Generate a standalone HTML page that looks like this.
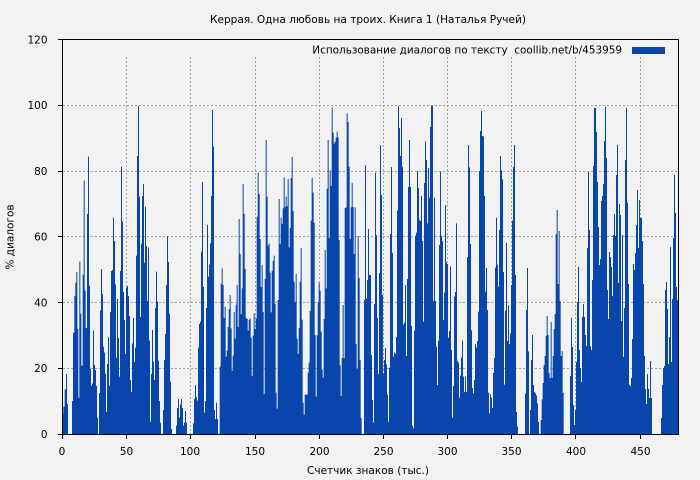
<!DOCTYPE html>
<html><head><meta charset="utf-8"><style>
html,body{margin:0;padding:0;background:#f2f2f2;}
svg{display:block;}
text{font-family:"DejaVu Sans","Liberation Sans",sans-serif;font-size:10.5px;fill:#000;}
</style></head><body>
<svg width="700" height="480" viewBox="0 0 700 480" xmlns="http://www.w3.org/2000/svg">
<rect x="0" y="0" width="700" height="480" fill="#f2f2f2"/>
<!-- grid -->
<g stroke="#a0a0a0" stroke-width="1" stroke-dasharray="2,2" fill="none">
<line x1="63" y1="105.5" x2="678" y2="105.5"/>
<line x1="63" y1="171.5" x2="678" y2="171.5"/>
<line x1="63" y1="236.5" x2="678" y2="236.5"/>
<line x1="63" y1="302.5" x2="678" y2="302.5"/>
<line x1="63" y1="368.5" x2="678" y2="368.5"/>
<line x1="126.5" y1="57" x2="126.5" y2="434"/>
<line x1="190.5" y1="57" x2="190.5" y2="434"/>
<line x1="255.5" y1="57" x2="255.5" y2="434"/>
<line x1="319.5" y1="57" x2="319.5" y2="434"/>
<line x1="383.5" y1="57" x2="383.5" y2="434"/>
<line x1="447.5" y1="57" x2="447.5" y2="434"/>
<line x1="511.5" y1="57" x2="511.5" y2="434"/>
<line x1="575.5" y1="57" x2="575.5" y2="434"/>
<line x1="640.5" y1="57" x2="640.5" y2="434"/>
</g>
<!-- bars -->
<g fill="#0846ac">
<path transform="translate(62 100) scale(0.333333)" d="M0,1002 V940 H4 V920 H8 V868 H12 V822 H15 V912 H18 V1002 H30 V903 H33 V698 H37 V588 H40 V548 H43 V516 H46 V687 H49 V893 H52 V485 H55 V641 H58 V797 H62 V524 H65 V242 H68 V572 H71 V684 H75 V342 H78 V170 H81 V557 H84 V806 H87 V857 H90 V850 H93 V692 H96 V795 H99 V810 H102 V857 H105 V953 H108 V1002 H111 V879 H114 V632 H117 V507 H120 V582 H123 V740 H126 V758 H129 V821 H132 V936 H135 V792 H138 V711 H141 V857 H144 V636 H147 V513 H150 V510 H153 V353 H156 V423 H159 V553 H162 V773 H165 V597 H168 V714 H171 V830 H174 V513 H177 V200 H180 V365 H183 V576 H186 V660 H189 V762 H192 V563 H195 V558 H198 V588 H201 V648 H204 V840 H207 V876 H210 V730 H213 V654 H216 V786 H219 V743 H222 V467 H225 V168 H228 V18 H231 V290 H234 V651 H237 V431 H240 V288 H243 V252 H246 V488 H249 V320 H252 V438 H255 V603 H258 V442 H261 V722 H264 V965 H267 V822 H270 V690 H273 V785 H276 V840 H279 V624 H282 V515 H285 V605 H288 V782 H291 V903 H294 V968 H297 V1002 H303 V930 H306 V780 H309 V702 H312 V555 H315 V408 H318 V486 H321 V641 H324 V845 H327 V987 H330 V1002 H342 V977 H345 V924 H348 V897 H351 V952 H354 V914 H357 V897 H360 V924 H363 V977 H366 V968 H369 V933 H372 V968 H375 V1002 H393 V970 H396 V897 H399 V855 H402 V891 H405 V902 H408 V743 H411 V672 H414 V665 H417 V455 H420 V246 H423 V561 H426 V938 H429 V903 H432 V624 H435 V375 H438 V530 H441 V494 H444 V430 H447 V288 H450 V30 H453 V140 H456 V930 H459 V957 H462 V1002 Z"/>
<path transform="translate(216 100) scale(0.333333)" d="M0,1002 V908 H3 V957 H6 V1002 H11 V800 H14 V551 H17 V505 H20 V555 H23 V654 H26 V620 H29 V770 H32 V752 H35 V681 H38 V627 H41 V585 H44 V685 H47 V812 H50 V767 H53 V636 H56 V716 H59 V614 H62 V555 H65 V681 H68 V357 H71 V462 H74 V642 H77 V565 H80 V252 H83 V342 H86 V507 H89 V654 H92 V657 H95 V692 H98 V660 H101 V655 H104 V713 H107 V828 H110 V707 H113 V640 H116 V687 H119 V656 H122 V350 H125 V218 H128 V282 H131 V417 H134 V561 H137 V495 H140 V636 H143 V882 H146 V537 H149 V120 H152 V290 H155 V437 H158 V430 H161 V518 H164 V637 H167 V513 H170 V483 H173 V467 H176 V612 H179 V878 H182 V926 H185 V600 H188 V297 H191 V432 H194 V353 H197 V372 H200 V325 H203 V232 H206 V321 H209 V290 H212 V318 H215 V237 H218 V442 H221 V384 H224 V234 H227 V171 H230 V333 H233 V545 H236 V606 H239 V522 H242 V716 H245 V762 H248 V684 H251 V545 H254 V444 H257 V659 H260 V908 H263 V944 H266 V884 H275 V818 H278 V788 H281 V633 H284 V362 H287 V234 H290 V278 H293 V368 H296 V705 H299 V890 H302 V706 H305 V607 H308 V548 H311 V572 H314 V695 H317 V808 H320 V833 H323 V657 H326 V450 H329 V565 H332 V266 H335 V120 H338 V414 H341 V211 H344 V258 H347 V22 H350 V98 H353 V131 H356 V125 H359 V113 H362 V95 H365 V112 H368 V420 H371 V796 H374 V888 H377 V774 H380 V615 H383 V774 H386 V324 H389 V322 H392 V40 H395 V66 H398 V200 H401 V417 H404 V322 H407 V249 H410 V321 H413 V462 H416 V322 H419 V732 H422 V806 H425 V408 H428 V534 H431 V780 H434 V954 H437 V1002 H444 V600 H447 V196 H450 V596 H453 V540 H456 V387 H459 V525 H462 V1002 Z"/>
<path transform="translate(370 100) scale(0.333333)" d="M0,1002 V525 H3 V765 H6 V900 H9 V968 H12 V612 H15 V218 H18 V405 H21 V654 H24 V822 H27 V519 H30 V135 H33 V285 H36 V585 H39 V820 H42 V780 H45 V744 H48 V793 H51 V884 H54 V965 H57 V803 H60 V402 H63 V201 H66 V459 H69 V770 H72 V758 H75 V762 H78 V711 H81 V332 H84 V18 H87 V84 H90 V168 H93 V54 H96 V200 H99 V674 H102 V668 H105 V555 H108 V768 H111 V537 H114 V261 H117 V120 H120 V261 H123 V678 H126 V977 H129 V985 H132 V692 H135 V407 H138 V398 H141 V213 H144 V264 H147 V360 H150 V363 H153 V288 H156 V423 H159 V665 H162 V249 H165 V124 H168 V180 H171 V370 H174 V204 H177 V293 H180 V81 H183 V18 H189 V603 H192 V293 H195 V603 H198 V740 H201 V855 H204 V722 H207 V435 H210 V215 H213 V408 H216 V423 H219 V660 H222 V578 H225 V315 H228 V487 H231 V492 H234 V713 H237 V693 H240 V500 H243 V750 H246 V953 H249 V858 H252 V590 H255 V576 H258 V370 H261 V783 H264 V788 H267 V893 H270 V827 H273 V773 H276 V722 H279 V830 H282 V876 H285 V830 H288 V876 H291 V471 H294 V135 H297 V202 H300 V432 H303 V691 H306 V864 H309 V880 H312 V840 H315 V732 H318 V743 H321 V723 H324 V635 H327 V213 H330 V93 H333 V33 H336 V108 H339 V110 H342 V288 H345 V575 H348 V504 H351 V630 H354 V878 H357 V940 H360 V883 H363 V893 H366 V924 H369 V819 H372 V774 H375 V503 H378 V353 H381 V494 H384 V560 H387 V390 H390 V168 H393 V211 H396 V238 H399 V516 H402 V854 H405 V632 H408 V429 H411 V723 H414 V616 H417 V732 H420 V700 H423 V555 H426 V362 H429 V201 H432 V135 H435 V525 H438 V936 H441 V980 H444 V1002 H462 Z"/>
<path transform="translate(524 100) scale(0.333333)" d="M0,1002 H3 V880 H6 V630 H9 V504 H12 V754 H15 V1002 H18 V930 H21 V780 H24 V705 H27 V855 H30 V876 H33 V880 H36 V886 H39 V910 H42 V966 H45 V1002 H50 V960 H53 V898 H56 V849 H59 V795 H62 V768 H65 V708 H68 V648 H71 V705 H74 V819 H77 V834 H80 V666 H83 V834 H86 V768 H89 V687 H92 V642 H95 V402 H98 V330 H101 V552 H104 V393 H107 V603 H110 V768 H113 V753 H116 V879 H119 V1002 H138 V828 H141 V654 H144 V741 H147 V915 H150 V975 H153 V930 H156 V786 H159 V606 H162 V501 H165 V750 H168 V804 H171 V846 H174 V651 H177 V612 H180 V651 H183 V705 H186 V738 H189 V444 H192 V216 H195 V390 H198 V738 H201 V750 H204 V540 H207 V198 H210 V24 H216 V96 H219 V246 H222 V381 H225 V495 H228 V477 H231 V303 H234 V288 H237 V252 H240 V123 H243 V21 H246 V174 H249 V570 H252 V657 H255 V456 H258 V471 H261 V501 H264 V588 H267 V405 H270 V342 H273 V408 H276 V225 H279 V135 H282 V549 H285 V312 H288 V345 H291 V663 H294 V405 H297 V771 H300 V624 H303 V180 H306 V24 H309 V308 H312 V552 H315 V855 H318 V858 H321 V834 H324 V717 H327 V492 H330 V510 H333 V459 H336 V375 H339 V270 H342 V444 H345 V300 H348 V354 H354 V423 H357 V552 H360 V768 H363 V867 H366 V912 H369 V822 H372 V867 H375 V894 H378 V783 H381 V894 H384 V1002 H411 V954 H414 V855 H417 V804 H420 V798 H423 V570 H426 V546 H429 V627 H432 V792 H435 V711 H438 V441 H441 V786 H444 V597 H447 V414 H450 V225 H453 V339 H456 V561 H459 V600 H462 V561 H465 V1002 Z"/>
</g>
<!-- frame -->
<rect x="62.5" y="39.5" width="616" height="395" fill="none" stroke="#000" stroke-width="1"/>
<!-- ticks -->
<g stroke="#000" stroke-width="1">
<line x1="58" y1="39.5" x2="62" y2="39.5"/>
<line x1="58" y1="105.5" x2="62" y2="105.5"/>
<line x1="58" y1="171.5" x2="62" y2="171.5"/>
<line x1="58" y1="236.5" x2="62" y2="236.5"/>
<line x1="58" y1="302.5" x2="62" y2="302.5"/>
<line x1="58" y1="368.5" x2="62" y2="368.5"/>
<line x1="58" y1="434.5" x2="62" y2="434.5"/>
<line x1="62.5" y1="435" x2="62.5" y2="439"/>
<line x1="126.5" y1="435" x2="126.5" y2="439"/>
<line x1="190.5" y1="435" x2="190.5" y2="439"/>
<line x1="255.5" y1="435" x2="255.5" y2="439"/>
<line x1="319.5" y1="435" x2="319.5" y2="439"/>
<line x1="383.5" y1="435" x2="383.5" y2="439"/>
<line x1="447.5" y1="435" x2="447.5" y2="439"/>
<line x1="511.5" y1="435" x2="511.5" y2="439"/>
<line x1="575.5" y1="435" x2="575.5" y2="439"/>
<line x1="640.5" y1="435" x2="640.5" y2="439"/>
</g>
<!-- y tick labels -->
<g text-anchor="end">
<text x="47.5" y="43.3">120</text>
<text x="47.5" y="109.2">100</text>
<text x="47.5" y="175.1">80</text>
<text x="47.5" y="240.6">60</text>
<text x="47.5" y="306.4">40</text>
<text x="47.5" y="372.2">20</text>
<text x="47.5" y="437.8">0</text>
</g>
<!-- x tick labels -->
<g text-anchor="middle">
<text x="62" y="455">0</text>
<text x="126.5" y="455">50</text>
<text x="190" y="455">100</text>
<text x="255" y="455">150</text>
<text x="319.5" y="455">200</text>
<text x="383.5" y="455">250</text>
<text x="447.5" y="455">300</text>
<text x="511.5" y="455">350</text>
<text x="576" y="455">400</text>
<text x="640.5" y="455">450</text>
</g>
<!-- titles -->
<text x="210" y="23" textLength="316" lengthAdjust="spacingAndGlyphs">Керрая. Одна любовь на троих. Книга 1 (Наталья Ручей)</text>
<text x="307" y="474" textLength="122" lengthAdjust="spacingAndGlyphs">Счетчик знаков (тыс.)</text>
<text transform="translate(13.5 237) rotate(-90)" text-anchor="middle">% диалогов</text>
<!-- legend -->
<text x="312.3" y="53.5" textLength="309.7" lengthAdjust="spacingAndGlyphs">Использование диалогов по тексту&#160; coollib.net/b/453959</text>
<rect x="632" y="47" width="33" height="7" fill="#0846ac"/>
</svg>
</body></html>
